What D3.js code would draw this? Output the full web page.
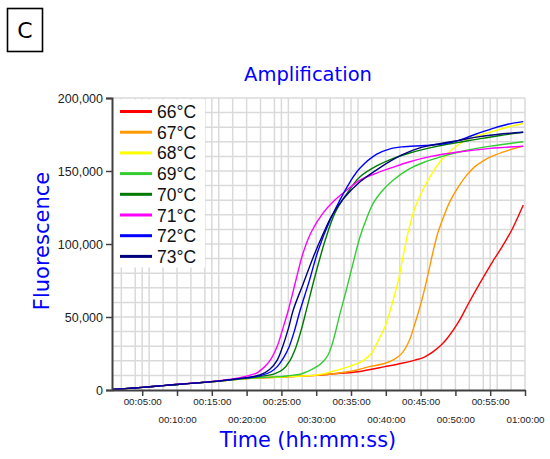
<!DOCTYPE html>
<html>
<head>
<meta charset="utf-8">
<script src="https://cdn.jsdelivr.net/npm/d3@7"></script>
<style>
  html, body { margin: 0; padding: 0; background: #fff; }
  svg { display: block; }
</style>
</head>
<body>
<svg id="chart" width="550" height="459"></svg>
<script>
// ---------- data (minutes, fluorescence) ----------
const seriesNames = ["66°C", "67°C", "68°C", "69°C", "70°C", "71°C", "72°C", "73°C"];
const seriesColors = ["#ff0000", "#ff9900", "#ffff00", "#33cc33", "#007a00", "#ff00ff", "#0000ff", "#000080"];

const s66 = [[0.66,400],[3,1100],[5,1800],[8,3000],[10,3800],[13,4900],[15,5700],[18,7000],[20,7900],[25,8900],[30,10000],[33,11300],[36,12500],[39.9,16000],[42.3,18300],[44.2,20500],[45.3,22000],[46.1,24000],[47,27000],[48,31000],[49,36500],[50.5,47000],[51.9,59400],[53.5,73000],[55.2,86800],[56.7,98000],[58.1,109600],[59.75,126700]];
const s67 = [[0.66,400],[3,1100],[5,1800],[8,3000],[10,3800],[13,4900],[15,5700],[18,7000],[20,7900],[25,8900],[30,10000],[35,12800],[37.5,15800],[39.9,18300],[41.2,21000],[42.3,25100],[43.3,33000],[44.2,45700],[45.2,62000],[46.1,80000],[46.8,95000],[47.5,108000],[48.1,116000],[49.2,129000],[50.4,139000],[51.6,147000],[52.8,153000],[54,157000],[55.2,160000],[57.5,164000],[59.75,167000]];
const s68 = [[0.66,400],[3,1100],[5,1800],[8,3000],[10,3800],[13,4900],[15,5700],[18,7000],[20,7900],[25,8900],[30,10300],[32,12300],[34,15000],[36,18300],[37,21000],[38,25500],[38.8,33000],[39.9,43500],[40.9,59000],[41.8,75000],[42.5,92000],[43.2,108000],[44.2,125000],[45.3,137000],[46.6,148000],[48,157500],[50.4,168000],[52.8,173500],[55.3,177000],[57.5,180000],[59.75,182500]];
const s69 = [[0.66,400],[3,1100],[5,1800],[8,3000],[10,3800],[13,4900],[15,5700],[18,7000],[20,7900],[24.1,9000],[26,9800],[27.7,10800],[28.8,12800],[30.1,16000],[31,19500],[31.7,24000],[32.4,33000],[33.4,52000],[34.3,68000],[35.2,85000],[36.3,105000],[37.2,117000],[38.2,128000],[39.4,136000],[41,143500],[43.2,151000],[45.5,156000],[48.1,160000],[51,163500],[55,167000],[59.75,170000]];
const s70 = [[0.66,400],[3,1100],[5,1800],[8,3000],[10,3800],[13,4900],[15,5700],[18,7100],[20,8100],[22,9300],[24,11000],[25.2,14000],[26.2,20000],[27.1,29500],[27.9,42000],[28.6,55000],[29.8,77400],[31.3,102700],[32.7,121300],[34.4,134500],[36.3,146000],[38.9,154000],[41,158500],[43.2,162000],[46,165500],[49,168500],[52.8,171500],[56,174000],[59.75,176500]];
const s71 = [[0.66,400],[3,1100],[5,1800],[8,3000],[10,3900],[13,5000],[15,5800],[18,7500],[20,9500],[21.5,11800],[22.5,15500],[23.4,20500],[24.4,30000],[25.2,42000],[26,54800],[27.2,77400],[28.1,93600],[29.35,108700],[31,121300],[32.5,129300],[34.4,137000],[36.3,143800],[38.7,148600],[41,152500],[43.2,156000],[46.5,160000],[50.4,163000],[55,165500],[59.75,167000]];
const s72 = [[0.66,400],[3,1100],[5,1800],[8,3000],[10,3800],[13,4900],[15,5700],[18,7200],[20,8300],[22,9800],[23.5,12500],[24.4,16000],[25.3,22000],[26.1,29500],[26.9,41000],[27.7,54800],[28.9,73000],[30.3,95900],[32,116400],[33.4,130100],[34.9,142800],[36.3,152000],[38.7,161500],[40.5,165000],[42.3,166500],[45.6,167500],[48.1,168500],[50.4,170800],[52.8,175000],[55.3,179000],[57.5,182000],[59.75,183800]];
const s73 = [[0.66,400],[3,1100],[5,1800],[8,3000],[10,3800],[13,4900],[15,5700],[18,7300],[20,8500],[22,10500],[23.3,14000],[24.4,20500],[25.2,30000],[26,42000],[26.7,54800],[28.15,73000],[29.6,91300],[31,107000],[32.2,119000],[33.9,131000],[36.3,142600],[38.9,151500],[42.3,161000],[45,166000],[48.1,169000],[50.5,171000],[52.8,173000],[56,175000],[59.75,176500]];
const seriesData = [s66, s67, s68, s69, s70, s71, s72, s73];

const yTicks = [0, 50000, 100000, 150000, 200000];
const xTicks = [5, 10, 15, 20, 25, 30, 35, 40, 45, 50, 55, 60];
const xGrid = [2,4,5,6,8,10,12,14,15,16,18,20,22,24,25,26,28,30,32,34,35,36,38,40,42,44,45,46,48,50,52,54,55,56,58,60];
const yGrid = [10000,20000,30000,40000,50000,60000,70000,80000,90000,100000,110000,120000,130000,140000,150000,160000,170000,180000,190000,200000];

// ---------- layout ----------
const svg = d3.select("#chart");
const x = d3.scaleLinear().domain([0.66, 60]).range([112, 525]);
const y = d3.scaleLinear().domain([0, 200000]).range([390, 98]);

const fmtTime = m => {
  const h = Math.floor(m / 60), mm = m % 60;
  return String(h).padStart(2, "0") + ":" + String(mm).padStart(2, "0") + ":00";
};

// panel letter box
svg.append("rect").attr("x", 7.5).attr("y", 8.5).attr("width", 35).attr("height", 43)
  .attr("fill", "none").attr("stroke", "#000").attr("stroke-width", 1.6);
svg.append("text").attr("x", 25).attr("y", 38).attr("text-anchor", "middle")
  .attr("font-family", "DejaVu Sans, Verdana, sans-serif").attr("font-size", 22).text("C");

// grid
const grid = svg.append("g").attr("stroke", "#dadada").attr("stroke-width", 1.5);
grid.selectAll("line.v").data(xGrid).join("line").attr("class", "v")
  .attr("x1", d => x(d)).attr("x2", d => x(d)).attr("y1", y(0)).attr("y2", y(200000));
grid.selectAll("line.h").data(yGrid).join("line").attr("class", "h")
  .attr("x1", x(0.66)).attr("x2", x(60)).attr("y1", d => y(d)).attr("y2", d => y(d));

// legend background
svg.append("rect").attr("x", 113).attr("y", 99.5).attr("width", 92).attr("height", 168).attr("fill", "#fff");

// lines
const line = d3.line().x(d => x(d[0])).y(d => y(d[1])).curve(d3.curveCatmullRom.alpha(0.5));
svg.append("g").selectAll("path").data(seriesData).join("path")
  .attr("d", line).attr("fill", "none")
  .attr("stroke", (d, i) => seriesColors[i]).attr("stroke-width", 1.4);

// y axis
const yAxis = svg.append("g").attr("transform", `translate(${x(0.66)},0)`)
  .call(d3.axisLeft(y).tickValues(yTicks).tickFormat(d3.format(",")).tickSize(6).tickPadding(3));
yAxis.select(".domain").attr("stroke", "#404040").attr("stroke-width", 2);
yAxis.selectAll(".tick line").attr("stroke", "#404040").attr("stroke-width", 1.5);
yAxis.selectAll("text").attr("font-family", "Liberation Sans, Arial, sans-serif").attr("font-size", 12.5).attr("fill", "#222");

// x axis
const xAxis = svg.append("g").attr("transform", `translate(0,${y(0)})`)
  .call(d3.axisBottom(x).tickValues(xTicks).tickFormat(fmtTime).tickSize(6).tickSizeOuter(0));
xAxis.select(".domain").attr("stroke", "#404040").attr("stroke-width", 2);
xAxis.selectAll(".tick line").attr("stroke", "#404040").attr("stroke-width", 1.5);
xAxis.selectAll("text").attr("font-family", "Liberation Sans, Arial, sans-serif").attr("font-size", 9.8).attr("fill", "#222")
  .attr("dy", null)
  .attr("y", (d, i) => (i % 2 === 0 ? 15 : 33));

// legend
const leg = svg.append("g").selectAll("g").data(seriesNames).join("g")
  .attr("transform", (d, i) => `translate(120,${118 + i * 20.7})`);
leg.append("line").attr("x1", 0).attr("x2", 32).attr("y1", -6.5).attr("y2", -6.5)
  .attr("stroke", (d, i) => seriesColors[i]).attr("stroke-width", 3);
leg.append("text").attr("x", 37).attr("y", 0).text(d => d)
  .attr("font-family", "Liberation Sans, Arial, sans-serif").attr("font-size", 17.5).attr("fill", "#111");

// titles
svg.append("text").attr("x", 308).attr("y", 81).attr("text-anchor", "middle")
  .attr("font-family", "DejaVu Sans, Verdana, sans-serif").attr("font-size", 19.5).attr("fill", "#0000ff").text("Amplification");
svg.append("text").attr("x", 308).attr("y", 447).attr("text-anchor", "middle")
  .attr("font-family", "DejaVu Sans, Verdana, sans-serif").attr("font-size", 20.8).attr("fill", "#0000ff").text("Time (hh:mm:ss)");
svg.append("text").attr("transform", "translate(49,241) rotate(-90)").attr("text-anchor", "middle")
  .attr("font-family", "DejaVu Sans, Verdana, sans-serif").attr("font-size", 21).attr("fill", "#0000ff").text("Fluorescence");
</script>
</body>
</html>
